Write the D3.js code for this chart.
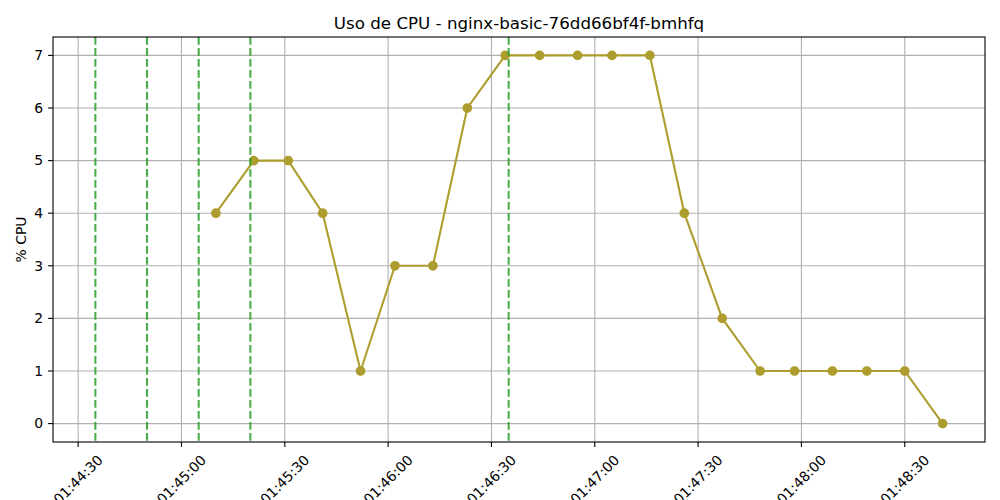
<!DOCTYPE html>
<html>
<head>
<meta charset="utf-8">
<script src="https://cdn.jsdelivr.net/npm/d3@7"></script>
<style>
  body { margin: 0; background: #fff; }
  text { font-family: "DejaVu Sans", sans-serif; }
</style>
</head>
<body>
<div id="chart"></div>
<script>
// sample times (HH:MM:SS) and CPU usage
const times = [
  "01:45:10", "01:45:21", "01:45:31", "01:45:41", "01:45:52", "01:46:02", "01:46:13",
  "01:46:23", "01:46:34", "01:46:44", "01:46:55", "01:47:05", "01:47:16", "01:47:26",
  "01:47:37", "01:47:48", "01:47:58", "01:48:09", "01:48:19", "01:48:30", "01:48:41"
];
const cpu = [4, 5, 5, 4, 1, 3, 3, 6, 7, 7, 7, 7, 7, 4, 2, 1, 1, 1, 1, 1, 0];
// event markers (green dashed lines)
const events = ["01:44:35", "01:44:50", "01:45:05", "01:45:20", "01:46:35"];
const tickTimes = ["01:44:30", "01:45:00", "01:45:30", "01:46:00", "01:46:30",
  "01:47:00", "01:47:30", "01:48:00", "01:48:30"];
const yTicks = [0, 1, 2, 3, 4, 5, 6, 7];

const parse = s => new Date("2024-01-01T" + s);
const fmt = d3.timeFormat("%H:%M:%S");

const width = 1000, height = 500;
const margin = { top: 37, right: 15, bottom: 58, left: 53 };
const iw = width - margin.left - margin.right;
const ih = height - margin.top - margin.bottom;

const svg = d3.select("#chart").append("svg")
  .attr("width", width)
  .attr("height", height);

const data = times.map((t, i) => ({ t: parse(t), v: cpu[i] }));
const evs = events.map(parse);

// matplotlib-ish 5% margins
const allX = data.map(d => +d.t).concat(evs.map(d => +d));
const x0 = d3.min(allX), x1 = d3.max(allX);
const xpad = (x1 - x0) * 0.05;
const x = d3.scaleTime()
  .domain([new Date(x0 - xpad), new Date(x1 + xpad)])
  .range([0, iw]);
const ypad = 7 * 0.05;
const y = d3.scaleLinear()
  .domain([0 - ypad, 7 + ypad])
  .range([ih, 0]);

const g = svg.append("g")
  .attr("transform", `translate(${margin.left},${margin.top})`);

// grid
g.append("g")
  .selectAll("line")
  .data(tickTimes.map(parse))
  .enter()
  .append("line")
  .attr("x1", d => x(d)).attr("x2", d => x(d))
  .attr("y1", 0).attr("y2", ih)
  .attr("stroke", "#b0b0b0")
  .attr("stroke-width", 1.1);

g.append("g")
  .selectAll("line")
  .data(yTicks)
  .enter()
  .append("line")
  .attr("x1", 0).attr("x2", iw)
  .attr("y1", d => y(d)).attr("y2", d => y(d))
  .attr("stroke", "#b0b0b0")
  .attr("stroke-width", 1.1);

// cpu line
const line = d3.line()
  .x(d => x(d.t))
  .y(d => y(d.v));

g.append("path")
  .datum(data)
  .attr("fill", "none")
  .attr("stroke", "#ad9d2e")
  .attr("stroke-width", 2.08)
  .attr("d", line);

g.append("g")
  .selectAll("circle")
  .data(data)
  .enter()
  .append("circle")
  .attr("cx", d => x(d.t))
  .attr("cy", d => y(d.v))
  .attr("r", 4.17)
  .attr("fill", "#ad9d2e")
  .attr("stroke", "#ad9d2e")
  .attr("stroke-width", 1.39);

// event lines
g.append("g")
  .selectAll("line")
  .data(evs)
  .enter()
  .append("line")
  .attr("x1", d => x(d)).attr("x2", d => x(d))
  .attr("y1", 0).attr("y2", ih)
  .attr("stroke", "#2ca02c")
  .attr("stroke-opacity", 0.85)
  .attr("stroke-width", 2.08)
  .attr("stroke-dasharray", "7.7,3.3");

// frame
g.append("rect")
  .attr("width", iw)
  .attr("height", ih)
  .attr("fill", "none")
  .attr("stroke", "#000")
  .attr("stroke-width", 1.1);

// x ticks
const xt = g.append("g").attr("transform", `translate(0,${ih})`);
xt.selectAll("line")
  .data(tickTimes.map(parse))
  .enter()
  .append("line")
  .attr("x1", d => x(d)).attr("x2", d => x(d))
  .attr("y1", 0).attr("y2", 4.9)
  .attr("stroke", "#000")
  .attr("stroke-width", 1.1);

xt.selectAll("text")
  .data(tickTimes.map(parse))
  .enter()
  .append("text")
  .attr("font-size", "13.9px")
  .attr("text-anchor", "middle")
  .attr("dy", "0.35em")
  .text(d => fmt(d))
  .each(function (d) {
    const w = this.getComputedTextLength();
    const h = 13.9 * 1.17;
    const bh = (w + h) * Math.SQRT1_2;
    d3.select(this)
      .attr("transform", `translate(${x(d)},${9.8 + bh / 2}) rotate(-45)`);
  });

// y ticks
const yt = g.append("g");
yt.selectAll("line")
  .data(yTicks)
  .enter()
  .append("line")
  .attr("x1", -4.9).attr("x2", 0)
  .attr("y1", d => y(d)).attr("y2", d => y(d))
  .attr("stroke", "#000")
  .attr("stroke-width", 1.1);

yt.selectAll("text")
  .data(yTicks)
  .enter()
  .append("text")
  .attr("x", -9.8)
  .attr("y", d => y(d))
  .attr("dy", "0.35em")
  .attr("text-anchor", "end")
  .attr("font-size", "13.9px")
  .text(d => d);

// labels
svg.append("text")
  .attr("transform", `translate(21,${margin.top + ih / 2}) rotate(-90)`)
  .attr("text-anchor", "middle")
  .attr("dy", "0.35em")
  .attr("font-size", "13.9px")
  .text("% CPU");

svg.append("text")
  .attr("x", margin.left + iw / 2)
  .attr("y", 29)
  .attr("text-anchor", "middle")
  .attr("font-size", "16.7px")
  .text("Uso de CPU - nginx-basic-76dd66bf4f-bmhfq");
</script>
</body>
</html>
